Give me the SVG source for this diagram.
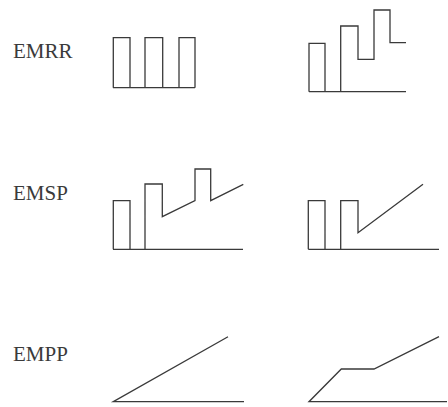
<svg xmlns="http://www.w3.org/2000/svg" width="448" height="407" viewBox="0 0 448 407">
<style>
text{font-family:"Liberation Serif","Times New Roman",serif;font-size:21px;fill:#3a3a3a}
.s{fill:none;stroke:#3a3a3a;stroke-width:1.3;stroke-linejoin:miter}
</style>
<rect width="448" height="407" fill="#fff"/>
<g id="label-emrr"><text x="13" y="58">EMRR</text></g>
<g id="label-emsp"><text x="13" y="200">EMSP</text></g>
<g id="label-empp"><text x="13" y="361">EMPP</text></g>
<g id="emrr-left">
<path class="s" d="M113,87.7 H195 M113.3,87.7 V37.7 H130 V87.7 M145,87.7 V37.7 H162.7 V87.7 M179,87.7 V37.7 H195 V87.7"/>
</g>
<g id="emrr-right">
<path class="s" d="M309,91.7 H406 M309,91.7 V43.3 H325 V91.7 M340.7,91.7 V26 H358 V59.3 H374 V10 H390 V42.7 H406"/>
</g>
<g id="emsp-left">
<path class="s" d="M113,249.3 H243 M113.3,249.3 V200.7 H130 V249.3 M145,249.3 V184 H162.3 V216.7 L195,200.7 V169 H210.7 V200.7 L243.3,184.3"/>
</g>
<g id="emsp-right">
<path class="s" d="M308.3,249.3 H439 M308.3,249.3 V200.7 H325 V249.3 M340.7,249.3 V200.7 H358 V232.7 L423,184.3"/>
</g>
<g id="empp-left">
<path class="s" d="M228,336.7 L113.3,401.7 H244"/>
</g>
<g id="empp-right">
<path class="s" d="M447,401.7 H309 L341.3,369 H374 L439,336.7"/>
</g>
</svg>
